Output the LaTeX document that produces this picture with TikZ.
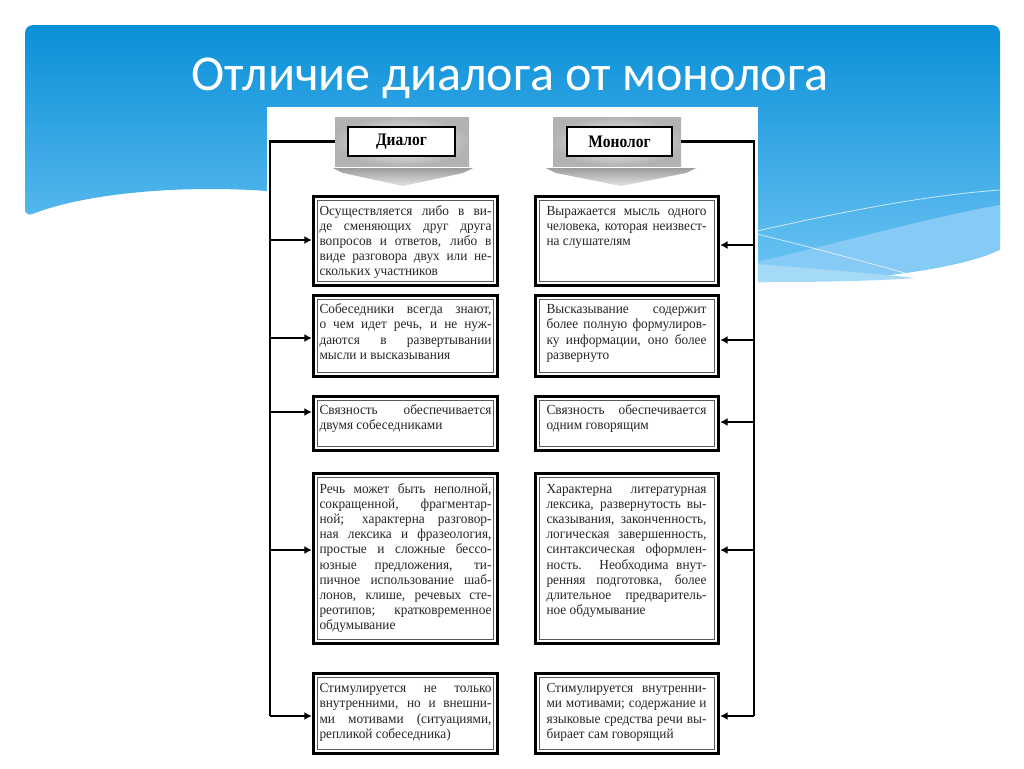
\documentclass[tikz,border=0pt]{standalone}
\usepackage{fontspec}
\setmainfont{Liberation Serif}
\newfontfamily\bodyfont[FakeStretch=0.96]{Liberation Serif}
\newfontfamily\headfont[FakeStretch=0.88]{Liberation Serif}
\newfontfamily\titlefont{Carlito}
\usetikzlibrary{calc,arrows.meta}
\definecolor{bluetop}{HTML}{0A90D8}
\definecolor{bluebot}{HTML}{6EC4F3}
\definecolor{bluelight}{HTML}{86CBF5}
\definecolor{bluelightest}{HTML}{A4DAF8}
\newcommand\LL[1]{\makebox[129pt][s]{\strut #1}}
\newcommand\LE[1]{\makebox[129pt][l]{\strut #1}}
\newcommand\RL[1]{\makebox[120pt][s]{\strut #1}}
\newcommand\RE[1]{\makebox[120pt][l]{\strut #1}}
\tikzset{
  tbox/.style={draw=black, line width=2.6pt, fill=white, inner sep=0pt,
    path picture={\draw[line width=0.6pt, black!65]
      ([shift={(3.1pt,-3.1pt)}]path picture bounding box.north west) rectangle
      ([shift={(-3.1pt,3.1pt)}]path picture bounding box.south east);}},
  ltbox/.style={tbox, minimum width=138pt},
  rtbox/.style={tbox, minimum width=137.25pt},
  btext/.style={anchor=north west, inner sep=0pt, align=left, text=black!85,
    font=\bodyfont\fontsize{10.4pt}{11.4pt}\selectfont},
  hframe/.style={inner color=gray!3, outer color=gray!60, inner sep=0pt},
  hbox/.style={draw=black, line width=1.6pt, fill=white, inner sep=0pt,
    font=\headfont\bfseries\fontsize{13.2pt}{15pt}\selectfont},
  chev/.style={top color=gray!78, bottom color=gray!22},
  connline/.style={line width=1.8pt, black},
  myarrow/.style={line width=1.5pt, black, -{Latex[length=5.5pt,width=6pt]}}
}
\begin{document}
\begin{tikzpicture}[x=0.75pt,y=-0.75pt]
\useasboundingbox (0,0) rectangle (1024,768);
\fill[white] (0,0) rectangle (1024,768);
% blue background
\shade[top color=bluetop, bottom color=bluebot, rounded corners=6]
  (25,217) -- (25,25) -- (1000,25) -- (1000,250)
  .. controls (950,270) and (860,282) .. (757,282) -- (268,191)
  .. controls (170,185) and (80,195) .. (25,217) -- cycle;
\fill[bluelight] (757,262) .. controls (850,240) and (940,215) .. (1000,205)
  -- (1000,250) .. controls (950,270) and (860,282) .. (757,282) -- cycle;
\fill[bluelightest] (757,264) .. controls (820,269) and (880,274) .. (915,278)
  .. controls (860,282) and (800,282) .. (757,282) -- cycle;
\draw[white, opacity=0.7, line width=0.6pt] (757,231) .. controls (850,210) and (930,195) .. (1000,190);
\draw[white, opacity=0.7, line width=0.6pt] (757,234) .. controls (830,252) and (880,266) .. (919,277);
% title
\node[font=\titlefont\fontsize{37.6pt}{40pt}\selectfont, text=white, anchor=base, inner sep=0pt]
  (title) at (510,90) {Отличие диалога от монолога};
% white panel
\fill[white] (267,107) rectangle (758,768);
% headers
\node[hframe, minimum width=100.5pt, minimum height=36.75pt] (dframe) at (402,141.5) {};
\node[hbox, minimum width=80pt, minimum height=21.75pt] (dia) at (401.5,141.5) {Диалог};
\node[hframe, minimum width=96pt, minimum height=36.75pt] (mframe) at (617,141.5) {};
\node[hbox, minimum width=78.75pt, minimum height=21.75pt] (mono) at (619.5,141.5) {Монолог};
\shade[chev] (333,168) -- (473,168) -- (463,173) -- (403,186) -- (343,173) -- cycle;
\shade[chev] (546,168) -- (696,168) -- (686,173) -- (621,186) -- (556,173) -- cycle;
% left boxes
\node[ltbox, minimum height=66.75pt] (l1) at (405.5,241) {};
\node[ltbox, minimum height=60.75pt] (l2) at (405.5,336) {};
\node[ltbox, minimum height=40.5pt] (l3) at (405.5,423.5) {};
\node[ltbox, minimum height=127.5pt] (l4) at (405.5,558.5) {};
\node[ltbox, minimum height=60pt] (l5) at (405.5,713.5) {};
% right boxes
\node[rtbox, minimum height=66.75pt] (r1) at (627,241) {};
\node[rtbox, minimum height=60.75pt] (r2) at (627,336) {};
\node[rtbox, minimum height=40.5pt] (r3) at (627,423.5) {};
\node[rtbox, minimum height=127.5pt] (r4) at (627,558.5) {};
\node[rtbox, minimum height=60pt] (r5) at (627,713.5) {};
% left texts
\node[btext] (l1t) at ($(l1.north west)+(7.5,9.5)$) {%
\LL{Осуществляется либо в ви-}\\
\LL{де сменяющих друг друга}\\
\LL{вопросов и ответов, либо в}\\
\LL{виде разговора двух или не-}\\
\LE{скольких участников}};
\node[btext] (l2t) at ($(l2.north west)+(7.5,9)$) {%
\LL{Собеседники всегда знают,}\\
\LL{о чем идет речь, и не нуж-}\\
\LL{даются в развертывании}\\
\LE{мысли и высказывания}};
\node[btext] (l3t) at ($(l3.north west)+(7.5,9)$) {%
\LL{Связность обеспечивается}\\
\LE{двумя собеседниками}};
\node[btext] (l4t) at ($(l4.north west)+(7.5,10.5)$) {%
\LL{Речь может быть неполной,}\\
\LL{сокращенной, фрагментар-}\\
\LL{ной; характерна разговор-}\\
\LL{ная лексика и фразеология,}\\
\LL{простые и сложные бессо-}\\
\LL{юзные предложения, ти-}\\
\LL{пичное использование шаб-}\\
\LL{лонов, клише, речевых сте-}\\
\LL{реотипов; кратковременное}\\
\LE{обдумывание}};
\node[btext] (l5t) at ($(l5.north west)+(7.5,10)$) {%
\LL{Стимулируется не только}\\
\LL{внутренними, но и внешни-}\\
\LL{ми мотивами (ситуациями,}\\
\LE{репликой собеседника)}};
% right texts
\node[btext] (r1t) at ($(r1.north west)+(12.5,9.5)$) {%
\RL{Выражается мысль одного}\\
\RL{человека, которая неизвест-}\\
\RE{на слушателям}};
\node[btext] (r2t) at ($(r2.north west)+(12.5,9)$) {%
\RL{Высказывание содержит}\\
\RL{более полную формулиров-}\\
\RL{ку информации, оно более}\\
\RE{развернуто}};
\node[btext] (r3t) at ($(r3.north west)+(12.5,9)$) {%
\RL{Связность обеспечивается}\\
\RE{одним говорящим}};
\node[btext] (r4t) at ($(r4.north west)+(12.5,10.5)$) {%
\RL{Характерна литературная}\\
\RL{лексика, развернутость вы-}\\
\RL{сказывания, законченность,}\\
\RL{логическая завершенность,}\\
\RL{синтаксическая оформлен-}\\
\RL{ность. Необходима внут-}\\
\RL{ренняя подготовка, более}\\
\RL{длительное предваритель-}\\
\RE{ное обдумывание}};
\node[btext] (r5t) at ($(r5.north west)+(12.5,10)$) {%
\RL{Стимулируется внутренни-}\\
\RL{ми мотивами; содержание и}\\
\RL{языковые средства речи вы-}\\
\RE{бирает сам говорящий}};
% connectors
\coordinate (la1) at (270,240);
\coordinate (la2) at (270,338);
\coordinate (la3) at (270,412);
\coordinate (la4) at (270,550);
\coordinate (la5) at (270,716);
\coordinate (ra1) at (754,245);
\coordinate (ra2) at (754,340);
\coordinate (ra3) at (754,422);
\coordinate (ra4) at (754,550);
\coordinate (ra5) at (754,716);
\draw[connline] (dframe.west) -| (la5);
\draw[connline] (mframe.east) -| (ra5);
\foreach \i in {1,...,5}{
  \draw[myarrow] (la\i) -- (la\i -| l\i.west);
  \draw[myarrow] (ra\i) -- (ra\i -| r\i.east);
}
\end{tikzpicture}
\end{document}
